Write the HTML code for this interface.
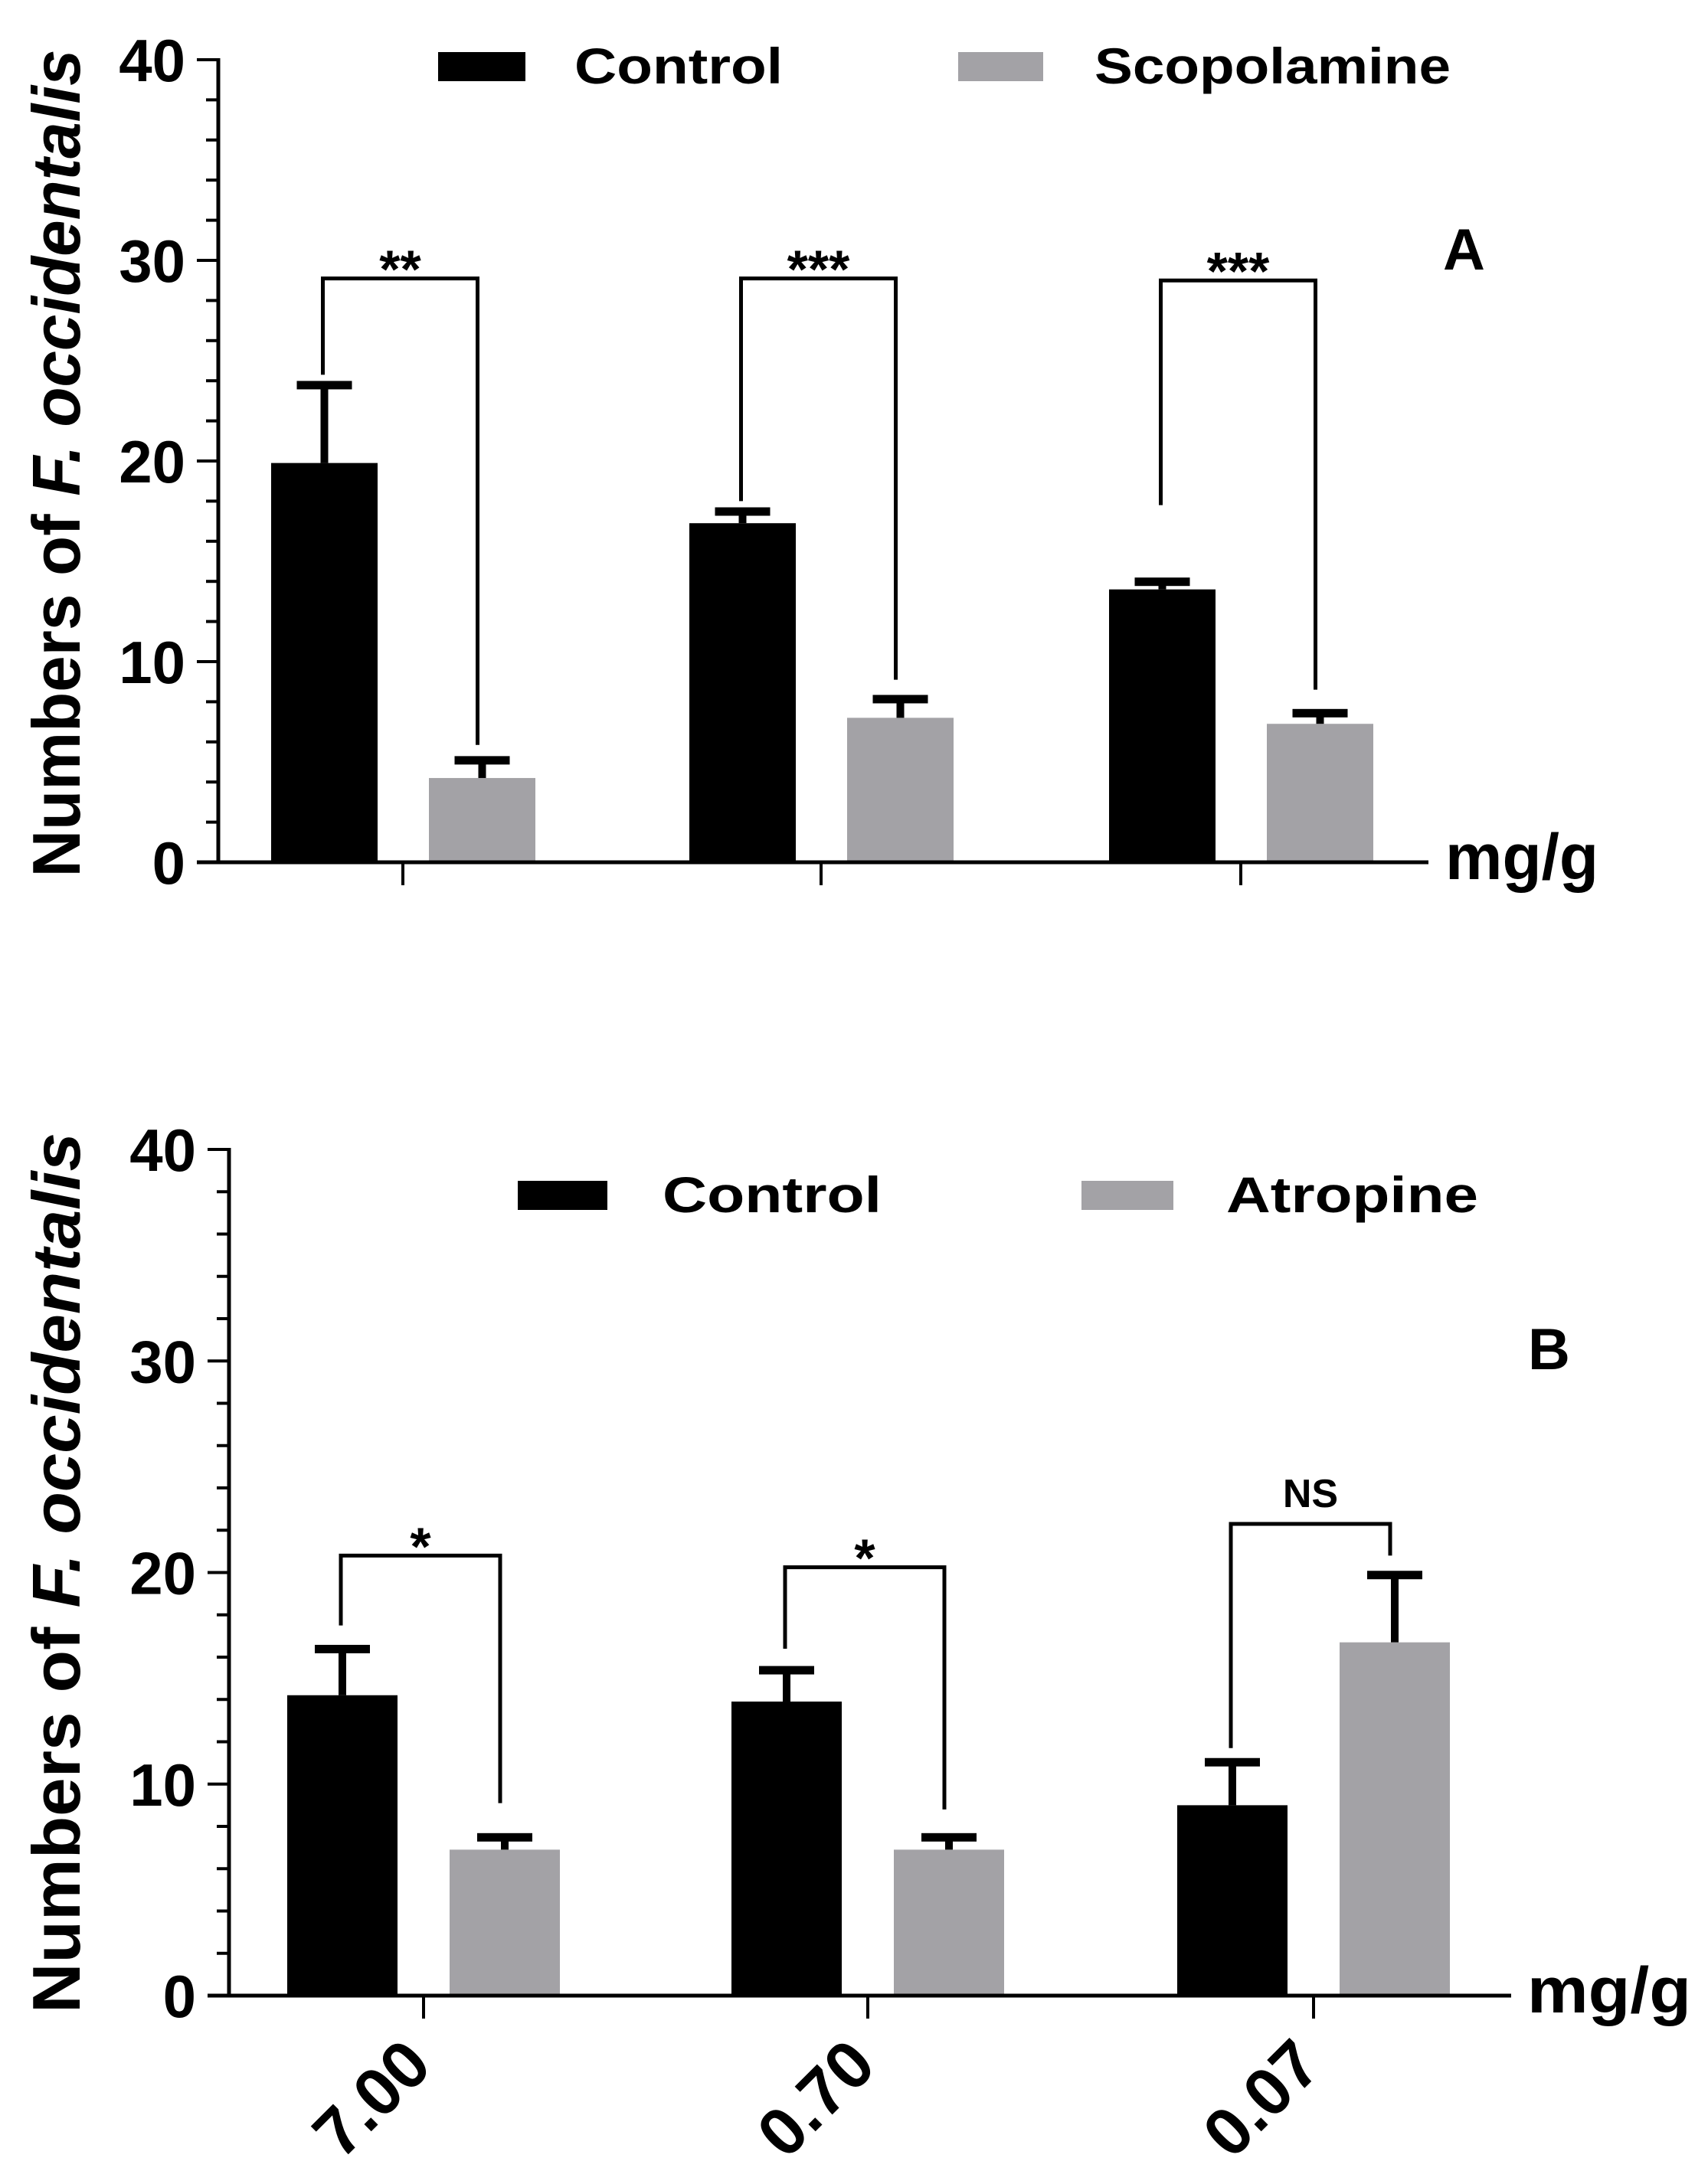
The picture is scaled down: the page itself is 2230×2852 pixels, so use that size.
<!DOCTYPE html>
<html><head><meta charset="utf-8"><style>
html,body{margin:0;padding:0;background:#fff}
svg{display:block}
text{font-family:"Liberation Sans",Arial,sans-serif;font-weight:bold;fill:#000}
</style></head><body>
<svg id="chart" width="2230" height="2852" viewBox="0 0 2230 2852" xmlns="http://www.w3.org/2000/svg"></svg>
<script>
// Panel A data
const catsA = ["7.00","0.70","0.07"];
const ctrlA = [19.9, 16.9, 13.6];
const ctrlErrA = [23.8, 17.5, 14.0];
const scopA = [4.2, 7.2, 6.9];
const scopErrA = [5.1, 8.15, 7.45];
const sigA = ["**","***","***"];
const brTopA = [29.1, 29.1, 29.0];
const brLeftA = [24.3, 18.0, 17.8];
const brRightA = [5.85, 9.1, 8.6];
// Panel B data
const catsB = ["7.00","0.70","0.07"];
const ctrlB = [14.2, 13.9, 9.0];
const ctrlErrB = [16.4, 15.4, 11.05];
const atrB = [6.9, 6.9, 16.7];
const atrErrB = [7.5, 7.5, 19.9];
const sigB = ["*","*","NS"];
const brTopB = [20.8, 20.25, 22.3];
const brLeftB = [17.5, 16.4, 11.7];
const brRightB = [9.1, 8.8, 20.8];
const yTicks = [0,10,20,30,40];

const svg = document.getElementById('chart');
const NS = 'http://www.w3.org/2000/svg';
function mk(tag, attrs, parent){
  const e = document.createElementNS(NS, tag);
  for (const k in attrs) e.setAttribute(k, attrs[k]);
  (parent||svg).appendChild(e); return e;
}
const GREY = '#a3a2a6';

function panel(cfg){
  const g = mk('g', {});
  
  
  const y = v => cfg.y0 - (v/40)*(cfg.y0 - cfg.y40);
  const xc = i => cfg.ticks[i];
  cfg.ctrl.forEach((v,i)=>{
    const r = mk('rect',{x:xc(i)+cfg.cOff, y:y(v), width:cfg.bw, height:cfg.y0-y(v), fill:'#000'}, g);
    
    
    const cx = xc(i)+cfg.cOff+cfg.bw/2;
    const s = mk('line',{x1:cx,x2:cx,y1:y(v),y2:y(cfg.ctrlErr[i]),stroke:'#000','stroke-width':10}, g);
    
    
    const c = mk('rect',{x:cx-36,y:y(cfg.ctrlErr[i])-5,width:72,height:11,fill:'#000'}, g);
    
    
  });
  cfg.trt.forEach((v,i)=>{
    const r = mk('rect',{x:xc(i)+cfg.tOff, y:y(v), width:cfg.bw, height:cfg.y0-y(v), fill:GREY}, g);
    
    
    const cx = xc(i)+cfg.tOff+cfg.bw/2;
    const s = mk('line',{x1:cx,x2:cx,y1:y(v),y2:y(cfg.trtErr[i]),stroke:'#000','stroke-width':10}, g);
    
    
    const c = mk('rect',{x:cx-36,y:y(cfg.trtErr[i])-5,width:72,height:11,fill:'#000'}, g);
    
    
  });
  cfg.sig.forEach((s,i)=>{
    const lx = xc(i)+cfg.cOff+cfg.bw/2 - 2, rx = xc(i)+cfg.tOff+cfg.bw/2 - 6;
    const p = mk('path',{d:`M${lx},${y(cfg.brLeft[i])} L${lx},${y(cfg.brTop[i])} L${rx},${y(cfg.brTop[i])} L${rx},${y(cfg.brRight[i])}`,fill:'none',stroke:'#000','stroke-width':5}, g);
    
    
    const t = mk('text',{x:(lx+rx)/2, y:y(cfg.brTop[i])-(s==='NS'?22:-12), 'text-anchor':'middle','font-size':s==='NS'?52:70,'font-weight':s==='NS'?'bold':'normal'}, g);
    t.textContent = s;
    
    
  });
  const ya = mk('line',{x1:cfg.ax,x2:cfg.ax,y1:cfg.y40-2,y2:cfg.y0+2,stroke:'#000','stroke-width':5}, g);
  
  
  const xa = mk('line',{x1:cfg.ax-28,x2:cfg.xEnd,y1:cfg.y0,y2:cfg.y0,stroke:'#000','stroke-width':5}, g);
  
  
  for (let v=0; v<=40; v+=2){
    const major = v%10===0;
    const tk = mk('line',{x1:cfg.ax-(major?28:16),x2:cfg.ax,y1:y(v),y2:y(v),stroke:'#000','stroke-width':4}, g);
    
    
  }
  yTicks.forEach(v=>{
    const t = mk('text',{x:cfg.ax-43,y:y(v)+28,'text-anchor':'end','font-size':78}, g);
    t.textContent = v;
    
    
  });
  cfg.ticks.forEach((tx,i)=>{
    const tk = mk('line',{x1:tx,x2:tx,y1:cfg.y0,y2:cfg.y0+30,stroke:'#000','stroke-width':4}, g);
    
    
    if (cfg.showCats){
      const bx = tx+14, by = cfg.y0+95;
      const t = mk('text',{x:bx,y:by,'text-anchor':'end','font-size':88,transform:`rotate(-45 ${bx} ${by})`}, g);
      t.textContent = cfg.cats[i];
      
      
    }
  });
  const u = mk('text',{x:cfg.unitX,y:cfg.y0+22,'font-size':84,textLength:cfg.unitW,lengthAdjust:'spacingAndGlyphs'}, g);
  u.textContent = 'mg/g';
  
  
  const tcx = 104, tcy = cfg.titleCy;
  const yt = mk('text',{x:tcx,y:tcy,'text-anchor':'middle','font-size':88,textLength:cfg.titleLen,lengthAdjust:'spacingAndGlyphs',transform:`rotate(-90 ${tcx} ${tcy})`}, g);
  
  
  yt.appendChild(document.createTextNode('Numbers of '));
  const it = mk('tspan',{'font-style':'italic'}, yt);
  it.textContent = 'F. occidentalis';
  const l1 = mk('rect',{x:cfg.leg[0],y:cfg.legY-18,width:cfg.leg[1]-cfg.leg[0],height:38,fill:'#000'}, g);
  
  
  const lt1 = mk('text',{x:cfg.leg[2],y:cfg.legY+23,'font-size':66,textLength:cfg.leg[3]-cfg.leg[2],lengthAdjust:'spacingAndGlyphs'}, g);
  lt1.textContent = 'Control';
  
  
  const l2 = mk('rect',{x:cfg.leg[4],y:cfg.legY-18,width:cfg.leg[5]-cfg.leg[4],height:38,fill:GREY}, g);
  
  
  const lt2 = mk('text',{x:cfg.leg[6],y:cfg.legY+23,'font-size':66,textLength:cfg.leg[7]-cfg.leg[6],lengthAdjust:'spacingAndGlyphs'}, g);
  lt2.textContent = cfg.trtName;
  
  
  const pl = mk('text',{x:cfg.letter[0],y:cfg.letter[1],'font-size':76}, g);
  pl.textContent = cfg.letterText;
  
  
}

panel({name:'panel-a', y0:1126, y40:78, ax:285, xEnd:1865, ticks:[526,1072,1620],
  cOff:-172, tOff:34, bw:139, ctrl:ctrlA, ctrlErr:ctrlErrA, trt:scopA, trtErr:scopErrA,
  sig:sigA, brTop:brTopA, brLeft:brLeftA, brRight:brRightA, cats:catsA, showCats:false,
  unitX:1887, unitW:200, titleCy:605, titleLen:1081,
  leg:[572,686,750,1022,1251,1362,1429,1894], legY:86, trtName:'Scopolamine',
  letter:[1884,352], letterText:'A'});
panel({name:'panel-b', y0:2606, y40:1501, ax:299, xEnd:1973, ticks:[553,1133,1715],
  cOff:-178, tOff:34, bw:144, ctrl:ctrlB, ctrlErr:ctrlErrB, trt:atrB, trtErr:atrErrB,
  sig:sigB, brTop:brTopB, brLeft:brLeftB, brRight:brRightB, cats:catsB, showCats:true,
  unitX:1994, unitW:214, titleCy:2054, titleLen:1150,
  leg:[676,793,865,1151,1412,1532,1601,1930], legY:1560, trtName:'Atropine',
  letter:[1995,1788], letterText:'B'});
</script>
</body></html>
